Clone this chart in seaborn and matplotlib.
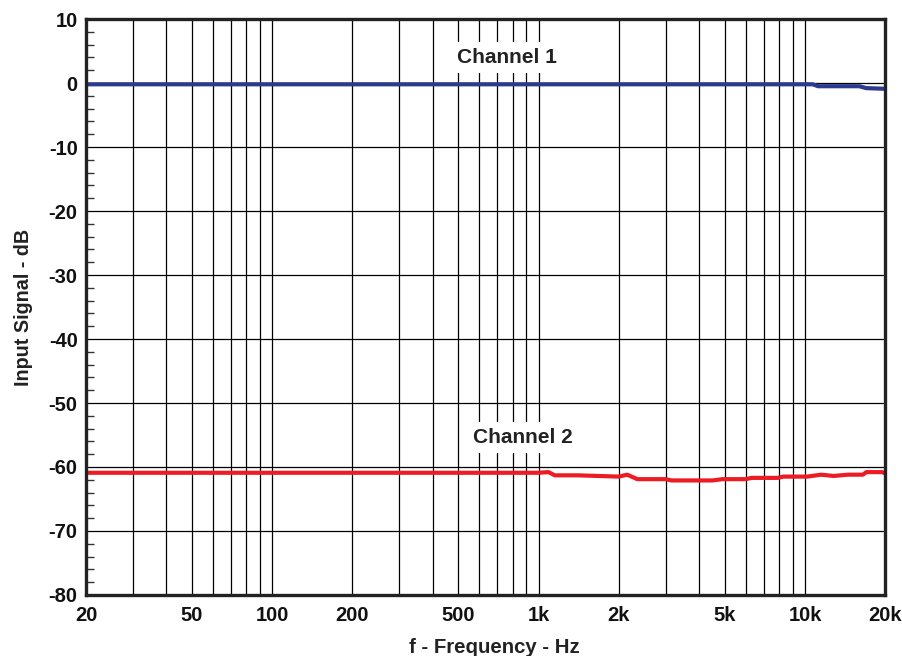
import numpy as np
import pandas as pd
import seaborn as sns
import matplotlib.pyplot as plt
from matplotlib.ticker import FixedLocator, MultipleLocator, NullFormatter

# values
ch1_freq = [20, 10700, 11200, 16000, 17000, 20000]
ch1_db = [-0.2, -0.2, -0.5, -0.5, -0.8, -0.9]

ch2_freq = [20, 1000, 1090, 1150, 1400, 2000, 2150, 2350, 3000, 3150, 4500,
            4900, 6000, 6300, 7900, 8300, 10200, 11500, 12800, 14500, 16500,
            17000, 19500, 20000]
ch2_db = [-60.9, -60.9, -60.8, -61.3, -61.3, -61.5, -61.2, -61.9, -61.9, -62.1,
          -62.1, -61.9, -61.9, -61.7, -61.7, -61.5, -61.5, -61.2, -61.4, -61.2,
          -61.2, -60.8, -60.8, -61.0]

x_ticks = [20, 50, 100, 200, 500, 1000, 2000, 5000, 10000, 20000]
x_ticklabels = ['20', '50', '100', '200', '500', '1k', '2k', '5k', '10k', '20k']
y_ticks = list(range(-80, 11, 10))

df = pd.concat([
    pd.DataFrame({'freq': ch1_freq, 'db': ch1_db, 'channel': 'Channel 1'}),
    pd.DataFrame({'freq': ch2_freq, 'db': ch2_db, 'channel': 'Channel 2'}),
])

sns.set_style('white')
plt.rcParams['font.family'] = ['Liberation Sans', 'DejaVu Sans']
plt.rcParams['font.weight'] = 'bold'
plt.rcParams['axes.unicode_minus'] = False

fig = plt.figure(figsize=(9.02, 6.56), dpi=100)
ax = fig.add_axes([0.0953, 0.093, 0.886, 0.878])

ax.set_xscale('log')
ax.set_xlim(20, 20000)
ax.set_ylim(-80, 10)

# grid: every decade step vertically, every 10 dB horizontally
grid_x = [m * 10 ** e for e in range(1, 5) for m in range(1, 10)]
grid_x = [g for g in grid_x if 20 < g < 20000]
for g in grid_x:
    ax.axvline(g, color='black', lw=0.9, zorder=1)
for g in range(-70, 10, 10):
    ax.axhline(g, color='black', lw=0.9, zorder=1)

sns.lineplot(data=df, x='freq', y='db', hue='channel',
             palette={'Channel 1': '#2b3990', 'Channel 2': '#ed1c24'},
             linewidth=3, legend=False, ax=ax, zorder=3)

ax.xaxis.set_major_locator(FixedLocator(x_ticks))
ax.set_xticklabels(x_ticklabels)
ax.xaxis.set_minor_formatter(NullFormatter())
ax.xaxis.set_minor_locator(FixedLocator([]))
ax.set_yticks(y_ticks)
ax.yaxis.set_minor_locator(MultipleLocator(2))
ax.tick_params(axis='x', which='both', length=0, pad=8, labelsize=14.5, labelcolor='#111111')
ax.tick_params(axis='y', which='major', left=True, length=0, pad=6, labelsize=14.5, labelcolor='#111111')
ax.tick_params(axis='y', which='minor', left=True, direction='in', length=6, width=1, color='#333333')

for s in ax.spines.values():
    s.set_linewidth(2.4)
    s.set_color('#222222')
    s.set_zorder(4)

ax.set_xlabel('f - Frequency - Hz', fontsize=14.7, fontweight='bold', color='#222222',
              labelpad=9.5, x=0.511)
ax.set_ylabel('Input Signal - dB', fontsize=14.2, fontweight='bold', color='#222222', labelpad=11)

box = dict(facecolor='white', edgecolor='none', pad=4)
ax.text(762, 4.0, 'Channel 1', ha='center', va='center', fontsize=15,
        fontweight='bold', color='#222222', bbox=box, zorder=5)
ax.text(875, -55.4, 'Channel 2', ha='center', va='center', fontsize=15,
        fontweight='bold', color='#222222', bbox=box, zorder=5)

fig.savefig('out.png', dpi=100)
